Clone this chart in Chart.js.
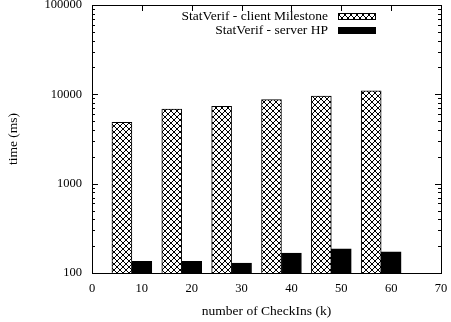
<!DOCTYPE html>
<html>
<head>
<meta charset="utf-8">
<script src="https://cdn.jsdelivr.net/npm/chart.js@4/dist/chart.umd.min.js"></script>
<style>
  html, body { margin:0; padding:0; background:#fff; }
  #wrap { width:451px; height:322px; }
</style>
</head>
<body>
<div id="wrap"><canvas id="c" width="451" height="322"></canvas></div>
<script>
// ── data ──
const checkIns   = [10, 20, 30, 40, 50, 60];
const clientMs   = [4870, 6860, 7360, 8730, 9530, 10920];
const serverMs   = [135, 135, 129, 167, 186, 173];
const seriesNames = ['StatVerif - client Milestone', 'StatVerif - server HP'];
const yMajors    = [100, 1000, 10000, 100000];
const xTicks     = [0, 10, 20, 30, 40, 50, 60, 70];

const FONT = "'Liberation Serif', 'DejaVu Serif', serif";

// crosshatch fill like gnuplot's pattern
function crossHatch() {
  const p = document.createElement('canvas');
  p.width = 6; p.height = 6;
  const g = p.getContext('2d');
  g.fillStyle = '#fff'; g.fillRect(0, 0, 6, 6);
  g.strokeStyle = '#000'; g.lineWidth = 1;
  g.beginPath();
  g.moveTo(0, 0); g.lineTo(6, 6);
  g.moveTo(6, 0); g.lineTo(0, 6);
  g.stroke();
  return document.getElementById('c').getContext('2d').createPattern(p, 'repeat');
}
const hatch = crossHatch();

// inward ticks, mirrored on all four sides, plus the frame and key
const frame = {
  id: 'frame',
  afterDraw(chart) {
    const { ctx, chartArea: a, scales: { x, y } } = chart;
    ctx.save();
    ctx.strokeStyle = '#000';
    ctx.lineWidth = 1;
    ctx.beginPath();
    y.ticks.forEach(t => {
      const py = Math.round(y.getPixelForValue(t.value)) + 0.5;
      const len = t.major ? 6 : 3;
      ctx.moveTo(a.left, py); ctx.lineTo(a.left + len, py);
      ctx.moveTo(a.right, py); ctx.lineTo(a.right - len, py);
    });
    x.ticks.forEach(t => {
      const px = Math.round(x.getPixelForValue(t.value)) + 0.5;
      ctx.moveTo(px, a.bottom); ctx.lineTo(px, a.bottom - 6);
      ctx.moveTo(px, a.top); ctx.lineTo(px, a.top + 6);
    });
    ctx.stroke();
    ctx.strokeRect(Math.round(a.left) + 0.5, Math.round(a.top) + 0.5,
                   Math.round(a.right - a.left), Math.round(a.bottom - a.top));

    // key
    ctx.font = '13.5px ' + FONT;
    ctx.fillStyle = '#000';
    ctx.textAlign = 'right';
    ctx.textBaseline = 'middle';
    chart.data.datasets.forEach((ds, i) => {
      const cy = a.top + 11 + i * 14;
      ctx.fillText(ds.label, a.right - 113, cy);
      ctx.fillStyle = ds.backgroundColor;
      ctx.fillRect(a.right - 103, cy - 3, 38, 6);
      ctx.strokeRect(a.right - 102.5, cy - 2.5, 37, 6);
      ctx.fillStyle = '#000';
    });
    ctx.restore();
  }
};

new Chart(document.getElementById('c'), {
  type: 'bar',
  data: {
    datasets: [
      {
        label: seriesNames[0],
        data: checkIns.map((k, i) => ({ x: k - 4, y: clientMs[i] })),
        backgroundColor: hatch,
        borderColor: '#000',
        borderWidth: 1
      },
      {
        label: seriesNames[1],
        data: checkIns.map((k, i) => ({ x: k, y: serverMs[i] })),
        backgroundColor: '#000',
        borderColor: '#000',
        borderWidth: 1
      }
    ]
  },
  options: {
    responsive: false,
    animation: false,
    grouped: false,
    barPercentage: 1,
    categoryPercentage: 1,
    layout: { padding: { top: 5, right: 10, left: 0, bottom: 0 } },
    plugins: { legend: { display: false }, tooltip: { enabled: false } },
    scales: {
      x: {
        type: 'linear',
        offset: false,
        min: 0, max: 70,
        grid: { display: false, drawTicks: false, offset: false },
        border: { display: false },
        afterBuildTicks: s => { s.ticks = xTicks.map(v => ({ value: v })); },
        afterFit: s => { s.height = 49; s.paddingLeft = 0; s.paddingRight = 0; },
        ticks: { color: '#000', padding: 8, font: { family: FONT, size: 12.5 } },
        title: { display: true, text: 'number of CheckIns (k)', color: '#000',
                 font: { family: FONT, size: 13.5 }, padding: { top: 0, bottom: 2 } }
      },
      y: {
        type: 'logarithmic',
        min: 100, max: 100000,
        grid: { display: false, drawTicks: false },
        border: { display: false },
        afterBuildTicks: s => {
          const t = [];
          for (let d = 0; d < yMajors.length; d++) {
            const base = yMajors[d];
            t.push({ value: base, major: true });
            if (d < yMajors.length - 1) for (let m = 2; m <= 9; m++) t.push({ value: base * m, major: false });
          }
          s.ticks = t;
        },
        afterFit: s => { s.width = 92; s.paddingTop = 0; s.paddingBottom = 0; },
        ticks: {
          color: '#000', padding: 10, autoSkip: false,
          font: { family: FONT, size: 12.5 },
          callback: v => yMajors.includes(v) ? String(v) : ''
        },
        title: { display: true, text: 'time (ms)', color: '#000',
                 font: { family: FONT, size: 13.5 }, padding: { top: 5, bottom: 0 } }
      }
    }
  },
  plugins: [frame]
});
</script>
</body>
</html>
